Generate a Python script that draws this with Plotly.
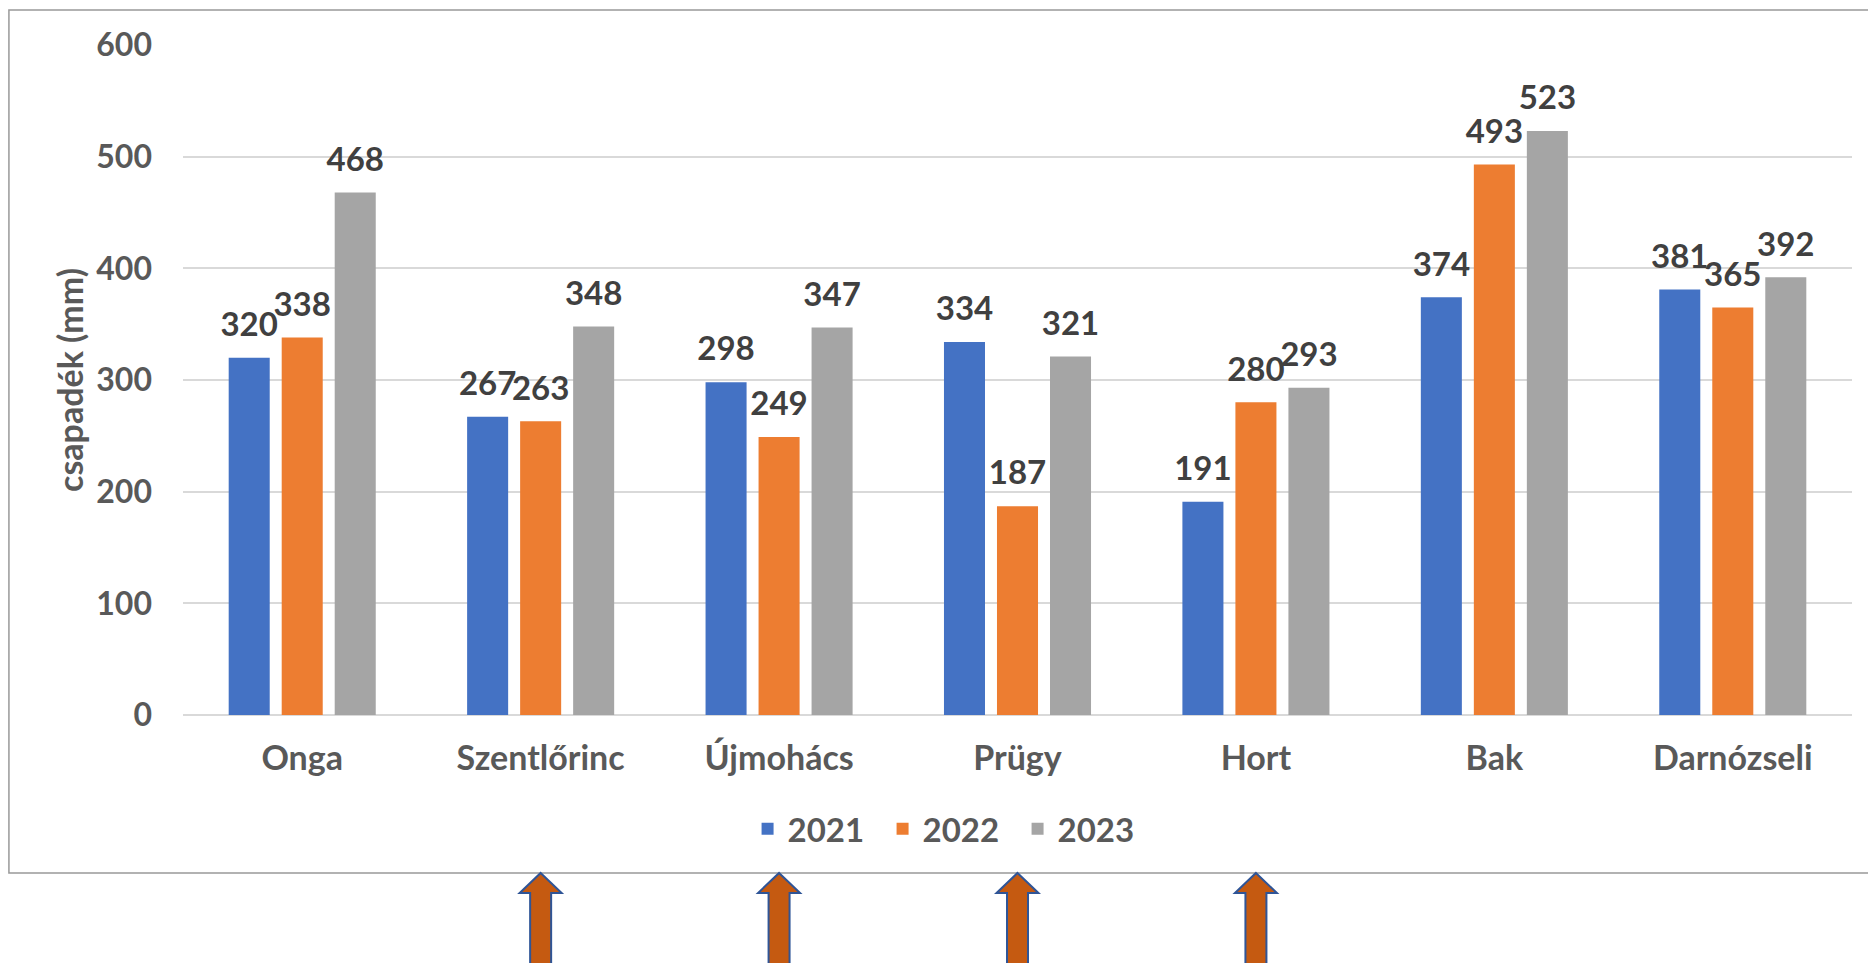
import plotly.graph_objects as go

categories = ["Onga", "Szentlőrinc", "Újmohács", "Prügy", "Hort", "Bak", "Darnózseli"]
years = ["2021", "2022", "2023"]
v2021 = [320, 267, 298, 334, 191, 374, 381]
v2022 = [338, 263, 249, 187, 280, 493, 365]
v2023 = [468, 348, 347, 321, 293, 523, 392]
arrow_categories = ["Szentlőrinc", "Újmohács", "Prügy", "Hort"]
y_ticks = [0, 100, 200, 300, 400, 500, 600]

series = [v2021, v2022, v2023]
colors = ["#4472C4", "#ED7D31", "#A5A5A5"]
FONT = "Lato"
AXIS_COLOR = "#595959"
LABEL_COLOR = "#404040"

fig = go.Figure()
for name, vals, col in zip(years, series, colors):
    fig.add_trace(go.Bar(
        x=categories, y=vals, name=name,
        marker=dict(color=col, line=dict(width=0)),
    ))
for name, vals in zip(years, series):
    fig.add_trace(go.Scatter(
        x=categories, y=vals, mode="markers+text",
        text=[str(v) for v in vals], textposition="top center",
        textfont=dict(family=FONT, size=33, color=LABEL_COLOR, weight="bold"),
        marker=dict(size=20, color="rgba(0,0,0,0)"),
        showlegend=False, hoverinfo="skip", cliponaxis=False,
    ))

shapes = [dict(
    type="rect", xref="paper", yref="paper",
    x0=-0.1043, x1=1.03, y0=-0.2358, y1=1.0522,
    line=dict(color="#999999", width=1.5), fillcolor="rgba(0,0,0,0)", layer="below",
)]
for cat in arrow_categories:
    shapes.append(dict(
        type="path", xref="x", yref="paper",
        xsizemode="pixel", ysizemode="pixel",
        xanchor=cat, yanchor=-0.2358,
        path="M0,0 L21,-20 L10.5,-20 L10.5,-110 L-10.5,-110 L-10.5,-20 L-21,-20 Z",
        fillcolor="#C55A11", line=dict(color="#2F5597", width=2),
    ))

fig.update_layout(
    width=1868, height=963,
    margin=dict(l=183, r=16, t=45, b=248),
    paper_bgcolor="white", plot_bgcolor="white",
    barmode="group", bargap=0.333, bargroupgap=0.226,
    scattermode="group", scattergap=0.333,
    font=dict(family=FONT, color=AXIS_COLOR),
    showlegend=True,
    legend=dict(
        orientation="h", x=0.4596, xanchor="center", y=-0.17, yanchor="middle",
        font=dict(family=FONT, size=33, color=AXIS_COLOR, weight="bold"),
        itemwidth=30, traceorder="normal", entrywidth=90, entrywidthmode="pixels",
    ),
    shapes=shapes,
)
fig.update_xaxes(
    type="category", showgrid=False, showline=False, ticks="",
    tickfont=dict(family=FONT, size=34, color=AXIS_COLOR, weight="bold"),
    ticklabelstandoff=20,
)
fig.update_yaxes(
    range=[0, 600], tickvals=y_ticks, showgrid=True, gridcolor="#D9D9D9", gridwidth=1.5,
    zeroline=True, zerolinecolor="#D9D9D9", zerolinewidth=1.5, showline=False, ticks="",
    tickfont=dict(family=FONT, size=32, color=AXIS_COLOR, weight="bold"),
    ticklabelstandoff=30,
    title=dict(text="csapadék (mm)", font=dict(family=FONT, size=34, color=AXIS_COLOR, weight="bold"), standoff=2),
)

fig.write_html("out.html")
